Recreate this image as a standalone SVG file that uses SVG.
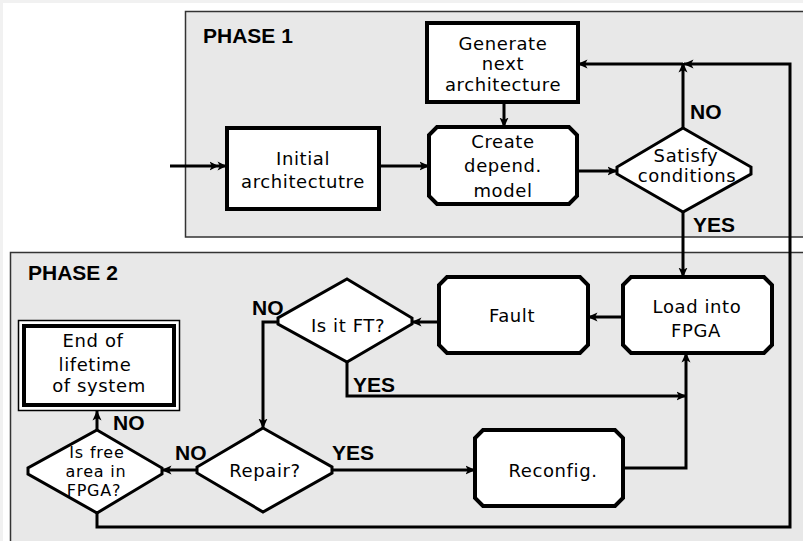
<svg xmlns="http://www.w3.org/2000/svg" width="803" height="541" viewBox="0 0 803 541">
  <style>
    .panel { fill: #e8e8e8; stroke: #333; stroke-width: 1.5; }
    .box { fill: #fff; stroke: #000; stroke-width: 4; }
    .dia { fill: #fff; stroke: #000; stroke-width: 3; stroke-linejoin: miter; }
    .wire { fill: none; stroke: #000; stroke-width: 3; }
    .lbl { font-family: "DejaVu Sans", "Liberation Sans", sans-serif; font-size: 18px; letter-spacing: 0.6px; fill: #000; text-anchor: middle; }
    .sm { font-size: 16px; letter-spacing: 0.8px; }
    .bold { font-family: "Liberation Sans", Arial, sans-serif; font-weight: bold; font-size: 21px; fill: #000; }
  </style>
  <defs>
    <marker id="ah" viewBox="0 0 10 10" markerWidth="10" markerHeight="10" refX="9.5" refY="5" orient="auto" markerUnits="userSpaceOnUse">
      <path d="M0,0.5 L10,5 L0,9.5 L2.5,5 Z" fill="#000"/>
    </marker>
    <marker id="ah2" viewBox="0 0 18 10" markerWidth="18" markerHeight="10" refX="17.5" refY="5" orient="auto" markerUnits="userSpaceOnUse">
      <path d="M0,0.5 L9,5 L0,9.5 L2.5,5 Z M8,0.5 L17,5 L8,9.5 L10.5,5 Z" fill="#000"/>
    </marker>
  </defs>

  <!-- page -->
  <rect x="0" y="0" width="803" height="541" fill="#f1f1f1"/>
  <rect x="3" y="3" width="800" height="538" fill="#fff"/>

  <!-- phase panels -->
  <g id="phase1">
    <rect class="panel" x="185.5" y="11.5" width="630" height="225.5"/>
    <text class="bold" x="203" y="43">PHASE 1</text>
  </g>
  <g id="phase2">
    <rect class="panel" x="10.5" y="252.5" width="805" height="300"/>
    <text class="bold" x="28" y="280">PHASE 2</text>
  </g>

  <!-- connectors -->
  <g id="connectors">
    <path class="wire" d="M170,166 H227" marker-end="url(#ah2)"/>
    <path class="wire" d="M379,166 H429" marker-end="url(#ah)"/>
    <path class="wire" d="M504,102 V127" marker-end="url(#ah)"/>
    <path class="wire" d="M577,171 H617" marker-end="url(#ah)"/>
    <path class="wire" d="M683,128 V63" marker-end="url(#ah)"/>
    <path class="wire" d="M683,64 H578" marker-end="url(#ah)"/>
    <path class="wire" d="M683,212 V277" marker-end="url(#ah)"/>
    <path class="wire" d="M623,317 H588" marker-end="url(#ah)"/>
    <path class="wire" d="M439,322 H412" marker-end="url(#ah)"/>
    <path class="wire" d="M278,322 H263 V428" marker-end="url(#ah)"/>
    <path class="wire" d="M347,362 V396 H686" marker-end="url(#ah)"/>
    <path class="wire" d="M623,468 H686 V353" marker-end="url(#ah)"/>
    <path class="wire" d="M332,470 H475" marker-end="url(#ah)"/>
    <path class="wire" d="M197,470 H162" marker-end="url(#ah)"/>
    <path class="wire" d="M97,430 V411" marker-end="url(#ah)"/>
    <path class="wire" d="M97,513 V527 H790 V64 H684" marker-end="url(#ah)"/>
    <text class="bold" x="690" y="119">NO</text>
    <text class="bold" x="693" y="232">YES</text>
    <text class="bold" x="252" y="315">NO</text>
    <text class="bold" x="353" y="392">YES</text>
    <text class="bold" x="113" y="430">NO</text>
    <text class="bold" x="175" y="460">NO</text>
    <text class="bold" x="332" y="460">YES</text>
  </g>

  <!-- nodes -->
  <g id="initial">
    <rect class="box" x="227" y="128" width="152" height="81"/>
    <text class="lbl" x="303" y="165">Initial</text>
    <text class="lbl" x="303" y="188">architectutre</text>
  </g>
  <g id="generate">
    <rect class="box" x="427" y="23" width="151" height="79"/>
    <text class="lbl" x="503" y="50">Generate</text>
    <text class="lbl" x="503" y="70">next</text>
    <text class="lbl" x="503" y="91">architecture</text>
  </g>
  <g id="create">
    <path class="box" d="M437,127 H569 L577,135 V196 L569,204 H437 L429,196 V135 Z"/>
    <text class="lbl" x="503" y="148">Create</text>
    <text class="lbl" x="503" y="172">depend.</text>
    <text class="lbl" x="503" y="197">model</text>
  </g>
  <g id="satisfy">
    <path class="dia" d="M683,128 L751,167 V174 L683,212 L617,174 V167 Z"/>
    <text class="lbl" x="686" y="162">Satisfy</text>
    <text class="lbl" x="687" y="182">conditions</text>
  </g>
  <g id="load">
    <path class="box" d="M631,277 H764 L772,285 V345 L764,353 H631 L623,345 V285 Z"/>
    <text class="lbl" x="697" y="313">Load into</text>
    <text class="lbl" x="696" y="337">FPGA</text>
  </g>
  <g id="fault">
    <path class="box" d="M447,277 H580 L588,285 V345 L580,353 H447 L439,345 V285 Z"/>
    <text class="lbl" x="512" y="322">Fault</text>
  </g>
  <g id="isft">
    <path class="dia" d="M347,279 L412,318 V324 L347,362 L278,324 V318 Z"/>
    <text class="lbl" x="348" y="332">Is it FT?</text>
  </g>
  <g id="reconfig">
    <path class="box" d="M483,430 H615 L623,438 V498 L615,506 H483 L475,498 V438 Z"/>
    <text class="lbl" x="553" y="477">Reconfig.</text>
  </g>
  <g id="repair">
    <path class="dia" d="M263,428 L332,467 V473 L263,512 L197,473 V467 Z"/>
    <text class="lbl" x="265" y="477">Repair?</text>
  </g>
  <g id="freearea">
    <path class="dia" d="M97,430 L162,468 V474 L97,513 L28,474 V468 Z"/>
    <text class="lbl sm" x="97" y="458">Is free</text>
    <text class="lbl sm" x="96" y="477">area in</text>
    <text class="lbl sm" x="94" y="496">FPGA?</text>
  </g>
  <g id="endoflife">
    <rect x="18.5" y="320.5" width="161" height="90" fill="#fff" stroke="#000" stroke-width="1.5"/>
    <rect x="24" y="326" width="150" height="79" fill="#fff" stroke="#000" stroke-width="4"/>
    <text class="lbl" x="93" y="347">End of</text>
    <text class="lbl" x="95" y="371">lifetime</text>
    <text class="lbl" x="99" y="392">of system</text>
  </g>
</svg>
